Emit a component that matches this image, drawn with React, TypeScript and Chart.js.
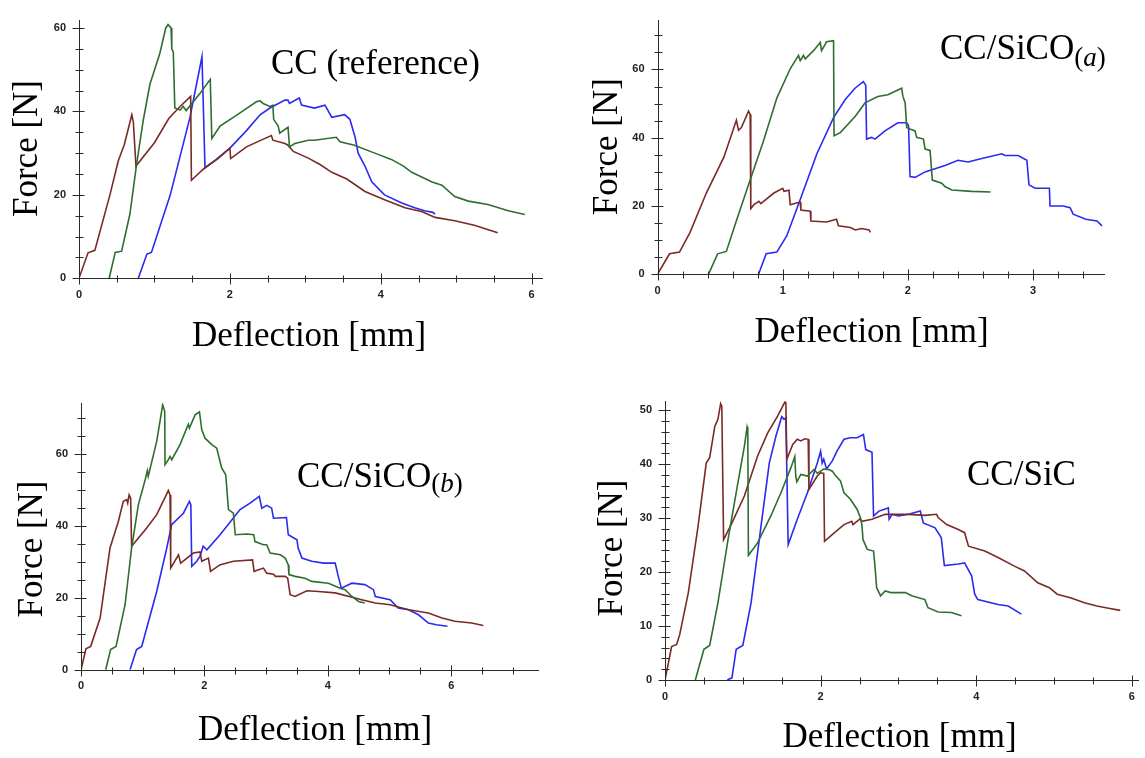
import React, { useEffect, useRef } from "react";
import { Chart, registerables } from "chart.js";

Chart.register(...registerables);

type Pt = [number, number];

// ---------- DATA (deflection mm, force N) ----------
// Panel 1: CC (reference)
const ccBrown: Pt[] = [[0,0],[0.12,6.1],[0.21,6.7],[0.41,20],[0.52,28.1],[0.6,32],[0.70,39.2],[0.72,37.5],[0.755,26.9],[1.0,32.5],[1.19,38.3],[1.33,41],[1.48,43.6],[1.49,23.5],[1.65,26.2],[1.85,28.8],[2.0,31.2],[2.01,28.7],[2.22,31.5],[2.4,33],[2.55,34.2],[2.57,33.1],[2.73,32.3],[2.77,31.9],[2.84,30.4],[3.04,28.8],[3.2,27.2],[3.35,25.4],[3.55,23.8],[3.79,20.8],[4.05,18.8],[4.32,16.9],[4.54,16],[4.72,14.6],[4.98,13.8],[5.24,12.7],[5.55,10.9]];
const ccGreen: Pt[] = [[0.40,0],[0.48,6.2],[0.565,6.5],[0.675,15.4],[0.76,26.9],[0.85,37.7],[0.94,46.5],[1.07,53.8],[1.15,60],[1.18,60.8],[1.22,60],[1.23,55],[1.25,54.2],[1.27,40.8],[1.34,40.3],[1.38,41.2],[1.42,40.2],[1.6,44.2],[1.74,47.7],[1.76,33.5],[1.87,36.5],[2.13,39.6],[2.35,42.3],[2.40,42.5],[2.44,41.9],[2.53,41.2],[2.57,41.5],[2.58,38.1],[2.64,36.5],[2.66,34.8],[2.77,36.2],[2.79,31.5],[2.86,32.3],[3.04,33.1],[3.12,33.1],[3.41,33.8],[3.46,32.7],[3.65,31.9],[3.92,30],[4.14,28.5],[4.30,26.9],[4.41,25.4],[4.68,23.1],[4.81,22.3],[4.98,19.6],[5.16,18.5],[5.42,17.7],[5.69,16.2],[5.91,15.3]];
const ccBlue: Pt[] = [[0.786,0],[0.90,5.8],[0.96,6.2],[1.21,20],[1.47,38.5],[1.63,53.1],[1.67,26.5],[1.82,28.5],[2.0,31.2],[2.22,35.4],[2.40,39.2],[2.53,40.8],[2.73,42.7],[2.77,42.7],[2.79,41.9],[2.92,43.2],[2.95,41.5],[3.12,40.8],[3.26,41.5],[3.35,38.6],[3.52,39.2],[3.59,38.1],[3.66,33.8],[3.70,30],[3.79,26.9],[3.88,23.1],[4.05,20],[4.27,18.1],[4.45,16.9],[4.58,16.2],[4.69,15.8],[4.72,15.4]];

// Panel 2: CC/SiCO(a)
const aBrown: Pt[] = [[0,0],[0.096,6.0],[0.176,6.5],[0.26,12.3],[0.39,23.8],[0.53,34.3],[0.63,45.1],[0.647,42.2],[0.67,43],[0.727,47.8],[0.74,46.8],[0.745,19.2],[0.77,20.4],[0.81,21.4],[0.825,20.7],[0.93,23.8],[1.0,25.2],[1.01,24.3],[1.05,24.6],[1.06,20.4],[1.11,20.9],[1.14,21.1],[1.145,18.8],[1.22,18.5],[1.225,15.6],[1.35,15.3],[1.43,16.1],[1.445,14.2],[1.54,13.7],[1.58,13.0],[1.63,13.4],[1.69,13.0],[1.70,12.3]];
const aGreen: Pt[] = [[0.407,0],[0.48,6.0],[0.55,6.7],[0.634,16.1],[0.74,27.6],[0.847,39.1],[0.953,51.6],[1.06,60.2],[1.126,64.1],[1.14,62.6],[1.166,64.1],[1.18,63.1],[1.246,65.5],[1.30,67.9],[1.31,65.5],[1.34,67.4],[1.35,68.1],[1.406,68.4],[1.41,40.6],[1.46,41.5],[1.58,46.3],[1.657,50.2],[1.76,52.1],[1.84,52.6],[1.95,54.5],[1.96,52.1],[1.978,50.2],[1.99,43],[2.02,42.5],[2.057,42],[2.07,40.1],[2.124,39.6],[2.137,36.7],[2.177,36.3],[2.195,27.6],[2.27,26.7],[2.296,25.7],[2.35,24.7],[2.51,24.3],[2.66,24.1]];
const aBlue: Pt[] = [[0.807,0],[0.868,6.0],[0.953,6.5],[1.033,11.3],[1.14,21.9],[1.273,35.3],[1.406,45.9],[1.498,51.1],[1.577,54.5],[1.644,56.4],[1.663,55.4],[1.67,39.6],[1.71,40.1],[1.737,39.6],[1.817,42],[1.92,44.4],[1.99,44.4],[2.005,43.5],[2.017,28.6],[2.057,28.4],[2.137,30],[2.296,31.9],[2.40,33.4],[2.48,32.9],[2.59,33.9],[2.75,35.3],[2.775,34.8],[2.88,34.8],[2.95,33.4],[2.967,26.2],[3.016,25.2],[3.13,25.2],[3.135,20],[3.24,20],[3.295,19.5],[3.32,17.6],[3.42,16.1],[3.51,15.6],[3.55,14.2]];

// Panel 3: CC/SiCO(b)
const bBrown: Pt[] = [[0,0],[0.08,5.8],[0.157,6.5],[0.31,14.4],[0.47,33.9],[0.605,41.3],[0.686,46.9],[0.74,47.4],[0.757,46.4],[0.78,48.7],[0.805,47.8],[0.82,34.4],[1.065,39.5],[1.227,43.2],[1.416,49.9],[1.443,48.7],[1.454,28.3],[1.58,32],[1.616,29.7],[1.82,32.5],[1.93,32.8],[1.957,30.2],[2.065,31.1],[2.10,27.4],[2.25,29.2],[2.47,30.2],[2.78,30.6],[2.805,27.4],[2.957,28.3],[3.01,26.9],[3.12,26.6],[3.15,26],[3.31,26],[3.35,25.5],[3.39,20.9],[3.47,20.4],[3.66,22],[3.85,21.8],[4.12,21.4],[4.55,19.5],[4.77,18.6],[5.01,18.1],[5.31,16.7],[5.63,15.8],[5.85,14.4],[6.06,13.5],[6.33,13],[6.52,12.3]];
const bGreen: Pt[] = [[0.40,0],[0.48,5.6],[0.568,6.5],[0.714,18.1],[0.82,33.9],[0.93,46],[1.04,52.9],[1.076,55.4],[1.09,53.9],[1.227,63.6],[1.324,73.8],[1.357,72],[1.362,57.1],[1.416,58.5],[1.443,59.4],[1.47,58.5],[1.605,62.7],[1.74,68.4],[1.757,67.3],[1.85,71],[1.92,71.8],[1.957,66.9],[2.01,64.5],[2.12,62.7],[2.2,61.7],[2.28,56.2],[2.346,54.3],[2.39,44.6],[2.47,43.6],[2.50,37.6],[2.69,37.8],[2.80,37.6],[2.82,35.7],[2.957,34.8],[3.01,34.8],[3.065,32.5],[3.23,32],[3.31,31.1],[3.36,29.2],[3.37,26.5],[3.47,26],[3.63,25.5],[3.74,24.6],[4.01,24.1],[4.20,22.7],[4.28,22.3],[4.39,20.4],[4.50,19],[4.60,18.6]];
const bBlue: Pt[] = [[0.795,0],[0.90,5.6],[0.984,6.5],[1.227,21.8],[1.39,33.9],[1.47,40.4],[1.66,43.6],[1.757,46.9],[1.78,46],[1.795,28.8],[1.876,30.2],[1.93,31.6],[1.98,34.4],[2.04,33.4],[2.254,37.6],[2.578,44.6],[2.74,46.4],[2.89,48.3],[2.93,45],[3.01,45.8],[3.09,45],[3.12,42.2],[3.33,42.4],[3.36,37.6],[3.50,36.2],[3.52,33.9],[3.58,31.1],[3.74,30.2],[3.93,29.7],[4.12,29.7],[4.17,26],[4.22,22.7],[4.39,24.1],[4.60,23.7],[4.74,22.3],[4.77,20.4],[5.01,19.5],[5.14,17.2],[5.31,16.7],[5.47,15.3],[5.63,13],[5.76,12.5],[5.94,12.1]];

// Panel 4: CC/SiC
const sBrown: Pt[] = [[0,0],[0.085,6.2],[0.15,6.6],[0.19,8.5],[0.30,16.2],[0.425,28.5],[0.53,40.2],[0.574,41.2],[0.64,47],[0.68,48.3],[0.715,51.2],[0.73,50.7],[0.753,26],[0.85,28.8],[1.02,34.1],[1.19,41.5],[1.32,45.8],[1.447,48.9],[1.54,51.5],[1.553,51.4],[1.566,40.9],[1.64,43.6],[1.70,44.6],[1.745,44.3],[1.796,44.7],[1.84,44.6],[1.85,35.3],[1.957,37.8],[2.0,38.4],[2.04,38.3],[2.05,25.7],[2.13,26.7],[2.30,28.8],[2.40,29.4],[2.415,28.8],[2.51,29.9],[2.53,29.4],[2.66,29.8],[2.83,30.7],[3.13,30.7],[3.34,30.5],[3.49,30.7],[3.51,30.1],[3.62,28.8],[3.77,27.9],[3.85,27.3],[3.90,24.8],[4.11,23.9],[4.28,22.7],[4.49,21.1],[4.62,20.2],[4.79,18],[4.94,17.1],[5.04,15.9],[5.22,15.2],[5.39,14.3],[5.55,13.7],[5.7,13.3],[5.85,12.9]];
const sGreen: Pt[] = [[0.39,0],[0.50,5.7],[0.574,6.4],[0.68,14.3],[0.81,26],[0.936,36.5],[1.02,43.3],[1.055,46.9],[1.064,46.4],[1.072,23.1],[1.19,25.4],[1.36,30.4],[1.49,34.7],[1.617,39.3],[1.668,41.4],[1.68,37.8],[1.694,36.7],[1.745,38.1],[1.83,37.8],[1.915,39],[1.957,38.3],[2.04,39.1],[2.106,39],[2.15,38.7],[2.19,37.9],[2.255,36.9],[2.30,34.7],[2.383,33.5],[2.47,31.6],[2.51,30.1],[2.53,28.8],[2.545,26],[2.60,24.2],[2.68,23.9],[2.70,20.8],[2.72,17.1],[2.77,15.6],[2.83,16.5],[2.90,16.2],[3.09,16.2],[3.17,15.6],[3.34,14.9],[3.38,13.4],[3.51,12.6],[3.68,12.5],[3.81,11.9]];
const sBlue: Pt[] = [[0.80,0],[0.86,0.4],[0.915,5.7],[1.0,6.4],[1.106,14.3],[1.234,28.5],[1.34,40.2],[1.426,45.2],[1.50,48.8],[1.53,48.3],[1.553,48.6],[1.583,25.1],[1.70,29.8],[1.83,34.7],[1.957,40.2],[2.0,42.4],[2.02,40.2],[2.04,40.9],[2.076,39.1],[2.15,40.6],[2.21,42.4],[2.30,44.6],[2.38,44.9],[2.47,44.9],[2.55,45.5],[2.58,42.7],[2.66,42.2],[2.68,30.4],[2.75,31.3],[2.83,31.7],[2.87,31.9],[2.88,29.8],[2.92,30.7],[3.00,30.4],[3.13,30.7],[3.28,31.3],[3.32,29.1],[3.47,28.2],[3.55,26.4],[3.59,21.2],[3.77,21.5],[3.85,21.7],[3.94,19.3],[3.98,15.9],[4.02,14.9],[4.28,14],[4.41,13.7],[4.58,12.2]];

// Text
const xTitle = "Deflection [mm]";
const yTitle = "Force [N]";
const panelNames = ["CC (reference)", "CC/SiCO", "CC/SiCO", "CC/SiC"];
const panelSubs = ["", "a", "b", ""];

// ---------- STYLE / LAYOUT ----------
const W = 1145;
const H = 758;
const YW = 50;
const XH = 30;
const COLORS = { brown: "#7a2a25", green: "#2f6e2f", blue: "#2a2af2" };
const TICK_FONT = { family: '"Liberation Sans", Arial, sans-serif', size: 11, weight: "bold" as const };
const SERIF = '"Liberation Serif", "Times New Roman", serif';

interface Panel {
  brown: Pt[]; green: Pt[]; blue: Pt[];
  name: string; sub: string;
  area: { left: number; top: number; right: number; bottom: number };
  xMax: number; yMax: number; xStep: number; yStep: number; xLab: number; yLab: number;
  namePos: [number, number]; subDy: number;
  xTitlePos: [number, number]; yTitlePos: [number, number];
}

const panels: Panel[] = [
  { brown: ccBrown, green: ccGreen, blue: ccBlue, name: panelNames[0], sub: panelSubs[0],
    area: { left: 79, top: 9.6, right: 543, bottom: 278.3 }, xMax: 6.15, yMax: 62, xStep: 0.5, yStep: 5, xLab: 2, yLab: 20,
    namePos: [271, 73.5], subDy: 0, xTitlePos: [309, 346], yTitlePos: [36.5, 148.5] },
  { brown: aBrown, green: aGreen, blue: aBlue, name: panelNames[1], sub: panelSubs[1],
    area: { left: 657.5, top: 15, right: 1104.5, bottom: 274.3 }, xMax: 3.57, yMax: 74.6, xStep: 0.2, yStep: 5, xLab: 1, yLab: 20,
    namePos: [940, 58.5], subDy: 7, xTitlePos: [871.5, 342], yTitlePos: [616.5, 146.7] },
  { brown: bBrown, green: bGreen, blue: bBlue, name: panelNames[2], sub: panelSubs[2],
    area: { left: 81, top: 403, right: 538.8, bottom: 669.7 }, xMax: 7.42, yMax: 74.3, xStep: 0.5, yStep: 5, xLab: 2, yLab: 20,
    namePos: [297, 487.3], subDy: 4.5, xTitlePos: [315, 740], yTitlePos: [41.7, 549] },
  { brown: sBrown, green: sGreen, blue: sBlue, name: panelNames[3], sub: panelSubs[3],
    area: { left: 665, top: 401, right: 1141.8, bottom: 680 }, xMax: 6.09, yMax: 51.7, xStep: 0.5, yStep: 2, xLab: 2, yLab: 10,
    namePos: [967, 485.3], subDy: 0, xTitlePos: [899.5, 747], yTitlePos: [621.7, 548] },
];

const isMult = (v: number, m: number) => Math.abs(v / m - Math.round(v / m)) < 1e-6;

function makeDecor(p: Panel) {
  return {
    id: "decor",
    afterDraw(chart: any) {
      const ctx: CanvasRenderingContext2D = chart.ctx;
      const a = chart.chartArea;
      const xs = chart.scales.x;
      const ys = chart.scales.y;
      ctx.save();
      ctx.strokeStyle = "#2a2a2a";
      ctx.lineWidth = 1;
      const by = Math.round(a.bottom) + 0.5;
      const lx = Math.round(a.left) + 0.5;
      ctx.beginPath();
      ctx.moveTo(lx, Math.round(a.top));
      ctx.lineTo(lx, by);
      ctx.lineTo(Math.round(a.right), by);
      xs.ticks.forEach((t: any) => {
        const px = Math.round(xs.getPixelForValue(t.value)) + 0.5;
        const major = t.label !== "";
        ctx.moveTo(px, by - (major ? 5 : 3));
        ctx.lineTo(px, by + (major ? 6 : 4));
      });
      ys.ticks.forEach((t: any) => {
        const py = Math.round(ys.getPixelForValue(t.value)) + 0.5;
        const major = t.label !== "";
        ctx.moveTo(lx - (major ? 7 : 4), py);
        ctx.lineTo(lx + (major ? 5 : 4), py);
      });
      ctx.stroke();

      ctx.fillStyle = "#000";
      ctx.textBaseline = "alphabetic";
      // panel name
      ctx.font = `35px ${SERIF}`;
      ctx.textAlign = "left";
      ctx.fillText(p.name, p.namePos[0], p.namePos[1]);
      if (p.sub) {
        let x = p.namePos[0] + ctx.measureText(p.name).width;
        const y = p.namePos[1] + p.subDy;
        ctx.font = `27px ${SERIF}`;
        ctx.fillText("(", x, y);
        x += ctx.measureText("(").width;
        ctx.font = `italic 27px ${SERIF}`;
        ctx.fillText(p.sub, x, y);
        x += ctx.measureText(p.sub).width;
        ctx.font = `27px ${SERIF}`;
        ctx.fillText(")", x, y);
      }
      // axis titles
      ctx.font = `35px ${SERIF}`;
      ctx.textAlign = "center";
      ctx.fillText(xTitle, p.xTitlePos[0], p.xTitlePos[1]);
      ctx.translate(p.yTitlePos[0], p.yTitlePos[1]);
      ctx.rotate(-Math.PI / 2);
      ctx.fillText(yTitle, 0, 0);
      ctx.restore();
    },
  };
}

function PanelChart({ p }: { p: Panel }) {
  const ref = useRef<HTMLCanvasElement | null>(null);
  useEffect(() => {
    if (!ref.current) return;
    const mk = (pts: Pt[], color: string) => ({
      data: pts.map(([x, y]) => ({ x, y })),
      borderColor: color,
      borderWidth: 1.6,
      pointRadius: 0,
      fill: false,
      tension: 0,
    });
    const chart = new Chart(ref.current, {
      type: "line",
      data: { datasets: [mk(p.green, COLORS.green), mk(p.brown, COLORS.brown), mk(p.blue, COLORS.blue)] as any },
      options: {
        responsive: false,
        maintainAspectRatio: false,
        animation: false,
        devicePixelRatio: 1,
        events: [],
        layout: {
          padding: {
            left: p.area.left - YW,
            top: p.area.top,
            right: W - p.area.right,
            bottom: H - p.area.bottom - XH,
          },
        },
        plugins: { legend: { display: false }, tooltip: { enabled: false }, title: { display: false } },
        scales: {
          x: {
            type: "linear",
            min: 0,
            max: p.xMax,
            grid: { display: false, drawTicks: false },
            border: { display: false },
            ticks: {
              stepSize: p.xStep,
              maxTicksLimit: 500,
              includeBounds: false,
              autoSkip: false,
              maxRotation: 0,
              minRotation: 0,
              padding: 10,
              color: "#222",
              font: TICK_FONT,
              callback: (v: any) => (isMult(Number(v), p.xLab) ? String(Math.round(Number(v))) : ""),
            },
            afterFit: (s: any) => { s.height = XH; },
          },
          y: {
            type: "linear",
            min: 0,
            max: p.yMax,
            grid: { display: false, drawTicks: false },
            border: { display: false },
            ticks: {
              stepSize: p.yStep,
              maxTicksLimit: 500,
              includeBounds: false,
              autoSkip: false,
              padding: 13,
              color: "#222",
              font: TICK_FONT,
              callback: (v: any) => (isMult(Number(v), p.yLab) ? String(Math.round(Number(v))) : ""),
            },
            afterFit: (s: any) => { s.width = YW; },
          },
        },
      } as any,
      plugins: [makeDecor(p)],
    });
    return () => chart.destroy();
  }, [p]);
  return (
    <canvas
      ref={ref}
      width={W}
      height={H}
      style={{ position: "absolute", left: 0, top: 0, width: W, height: H }}
    />
  );
}

export default function App() {
  return (
    <div style={{ position: "absolute", left: 0, top: 0, width: W, height: H, background: "#fff", overflow: "hidden" }}>
      {panels.map((p, i) => (
        <PanelChart key={i} p={p} />
      ))}
    </div>
  );
}
